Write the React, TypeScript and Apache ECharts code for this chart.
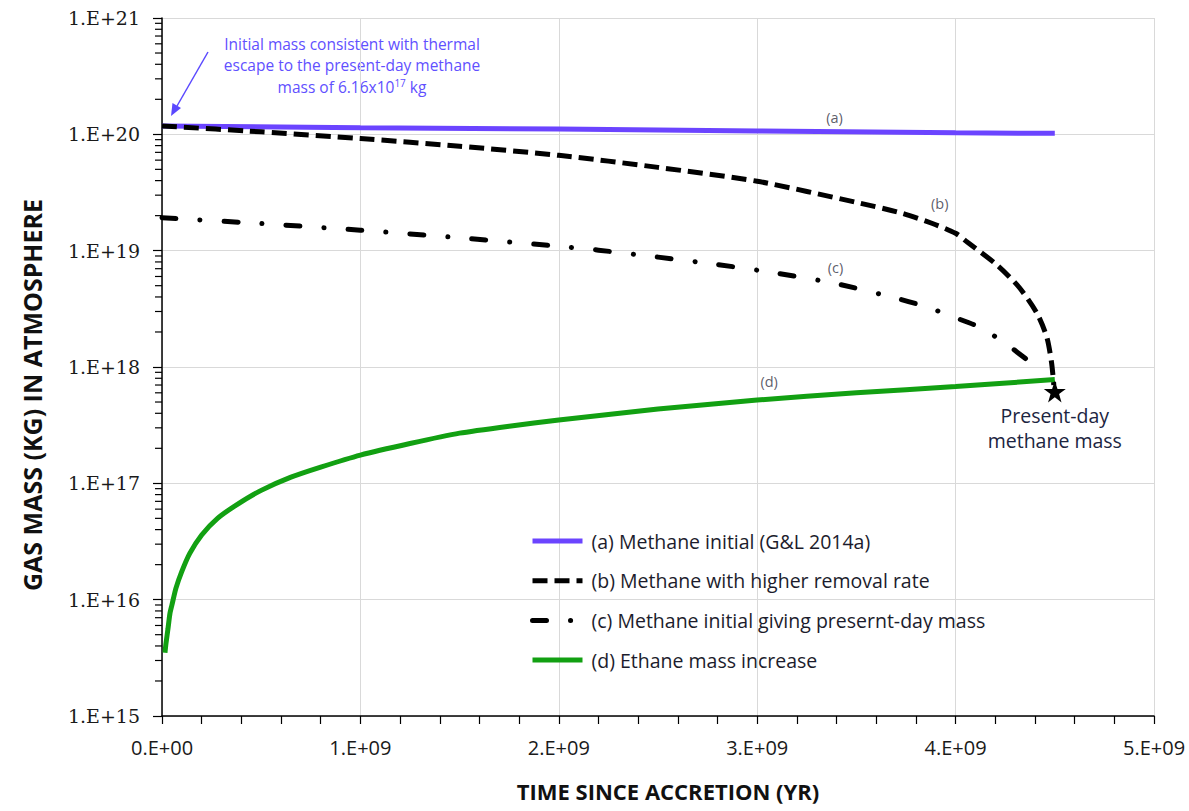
import React, { useEffect, useRef } from "react";
import * as echarts from "echarts";

// Time since accretion (yr) and gas mass (kg) for each curve
const methaneInitialT = [0, 1.0e9, 2.0e9, 3.0e9, 4.0e9, 4.5e9];
const methaneInitialM = [1.18e20, 1.14e20, 1.11e20, 1.07e20, 1.03e20, 1.02e20];

const higherRemovalT = [0, 0.5e9, 1.0e9, 1.5e9, 2.0e9, 2.5e9, 3.0e9, 3.5e9, 3.73e9, 3.88e9, 4.0e9, 4.06e9, 4.21e9, 4.32e9, 4.41e9, 4.46e9, 4.484e9, 4.495e9];
const higherRemovalM = [1.18e20, 1.05e20, 9.2e19, 7.9e19, 6.6e19, 5.2e19, 3.95e19, 2.6e19, 2.1e19, 1.72e19, 1.41e19, 1.18e19, 7.5e18, 4.85e18, 2.9e18, 1.8e18, 1.08e18, 7.0e17];

const presentDayGivingT = [0, 0.5e9, 1.0e9, 1.5e9, 2.0e9, 2.2e9, 2.5e9, 2.8e9, 3.1e9, 3.4e9, 3.7e9, 3.85e9, 4.0e9, 4.12e9, 4.25e9, 4.37e9, 4.39e9];
const presentDayGivingM = [1.92e19, 1.71e19, 1.5e19, 1.29e19, 1.09e19, 1.01e19, 8.8e18, 7.6e18, 6.4e18, 5.2e18, 3.9e18, 3.3e18, 2.65e18, 2.2e18, 1.6e18, 1.12e18, 1.05e18];

const ethaneT = [0.015e9, 0.02e9, 0.03e9, 0.04e9, 0.05e9, 0.07e9, 0.1e9, 0.14e9, 0.2e9, 0.28e9, 0.38e9, 0.5e9, 0.65e9, 0.8e9, 1.0e9, 1.25e9, 1.5e9, 1.75e9, 2.0e9, 2.5e9, 3.0e9, 3.5e9, 4.0e9, 4.5e9];
const ethaneM = [3.5e15, 4.2e15, 5.6e15, 7.6e15, 9.0e15, 1.25e16, 1.75e16, 2.5e16, 3.6e16, 5.0e16, 6.6e16, 8.7e16, 1.13e17, 1.38e17, 1.75e17, 2.2e17, 2.7e17, 3.1e17, 3.5e17, 4.35e17, 5.2e17, 6.0e17, 6.8e17, 7.8e17];

// Present-day methane mass marker
const presentDayT = 4.5e9;
const presentDayM = 6.16e17;

// Curve tags
const tagNames = ["(a)", "(b)", "(c)", "(d)"];
const tagT = [3.39e9, 3.92e9, 3.395e9, 3.06e9];
const tagM = [1.4e20, 2.55e19, 7.2e18, 7.55e17];

const seriesNames = [
  "(a) Methane initial (G&L 2014a)",
  "(b) Methane with higher removal rate",
  "(c) Methane initial giving presernt-day mass",
  "(d) Ethane mass increase",
];

// Log-axis minor tick multipliers and decades
const minorMultipliers = [2, 3, 4, 5, 6, 7, 8, 9];
const decades = [15, 16, 17, 18, 19, 20];

const BLUE = "#6B44FF";
const NOTE_BLUE = "#6150FF";
const GREEN = "#12A012";
const STAR =
  "path://M50,0 L61.8,35.1 L98.1,35.1 L68.7,56.7 L79.4,91.9 L50,70 L20.6,91.9 L31.3,56.7 L1.9,35.1 L38.2,35.1 Z";

const pairs = (xs: number[], ys: number[]) => xs.map((x, i) => [x, ys[i]]);

const sci = (v: number) => {
  if (v === 0) return "0.E+00";
  const e = Math.floor(Math.log10(v) + 1e-9);
  const m = Math.round(v / Math.pow(10, e));
  return `${m}.E+${String(e).padStart(2, "0")}`;
};

const noteLine = (text: string, y: number) => ({
  type: "text",
  x: 352,
  y,
  style: {
    text,
    align: "center",
    verticalAlign: "middle",
    fontFamily: "Open Sans",
    fontSize: 15.5,
    fill: NOTE_BLUE,
  },
});

export default function App() {
  const ref = useRef<HTMLDivElement>(null);

  useEffect(() => {
    if (!ref.current) return;
    const chart = echarts.init(ref.current, undefined, { renderer: "svg" });

    const minorTicks: number[][] = [];
    decades.forEach((d) =>
      minorMultipliers.forEach((m) => minorTicks.push([0, m * Math.pow(10, d)]))
    );

    const option: any = {
      animation: false,
      backgroundColor: "#ffffff",
      grid: { left: 162, right: 35, top: 18, bottom: 95 },
      xAxis: {
        type: "value",
        min: 0,
        max: 5e9,
        interval: 1e9,
        name: "TIME SINCE ACCRETION (YR)",
        nameLocation: "middle",
        nameGap: 64,
        nameTextStyle: {
          fontFamily: "Open Sans",
          fontWeight: "bold",
          fontSize: 22,
          color: "#111",
          padding: [0, 0, 0, 20],
        },
        axisLine: { lineStyle: { color: "#000", width: 1.5 } },
        axisTick: { show: true, inside: false, length: 8, lineStyle: { color: "#000", width: 1.2 } },
        minorTick: { show: true, splitNumber: 5, length: 8, lineStyle: { color: "#000", width: 1.2 } },
        splitLine: { show: true, lineStyle: { color: "#d9d9d9", width: 1 } },
        axisLabel: {
          formatter: sci,
          margin: 21,
          fontFamily: "Open Sans",
          fontSize: 20,
          color: "#1a1a1a",
        },
      },
      yAxis: {
        type: "log",
        logBase: 10,
        min: 1e15,
        max: 1e21,
        interval: 1,
        name: "GAS MASS (KG) IN ATMOSPHERE",
        nameLocation: "middle",
        nameRotate: 90,
        nameGap: 118,
        nameTextStyle: {
          fontFamily: "Open Sans",
          fontWeight: "bold",
          fontSize: 25,
          color: "#111",
          padding: [0, 56, 0, 0],
        },
        axisLine: { show: true, lineStyle: { color: "#000", width: 1.5 } },
        axisTick: { show: true, inside: false, length: 9, lineStyle: { color: "#000", width: 1.2 } },
        splitLine: { show: true, lineStyle: { color: "#d9d9d9", width: 1 } },
        axisLabel: {
          formatter: sci,
          margin: 22,
          fontFamily: "DejaVu Serif",
          fontSize: 19,
          color: "#1a1a1a",
        },
      },
      legend: {
        orient: "vertical",
        left: 530,
        top: 531,
        padding: 0,
        itemWidth: 50,
        itemHeight: 20,
        itemGap: 19.7,
        data: seriesNames,
        selectedMode: false,
        itemStyle: { opacity: 0 },
        lineStyle: { width: "inherit" },
        textStyle: {
          fontFamily: "Open Sans",
          fontSize: 19.5,
          color: "#1c1c2c",
          lineHeight: 20,
          padding: [0, 0, 0, 4],
        },
      },
      series: [
        {
          name: seriesNames[0],
          type: "line",
          data: pairs(methaneInitialT, methaneInitialM),
          showSymbol: false,
          symbol: "none",
          lineStyle: { color: BLUE, width: 5 },
          itemStyle: { color: BLUE },
          z: 3,
        },
        {
          name: seriesNames[1],
          type: "line",
          data: pairs(higherRemovalT, higherRemovalM),
          showSymbol: false,
          symbol: "none",
          smooth: 0.25,
          lineStyle: { color: "#000", width: 5, type: [15, 7], cap: "butt" },
          itemStyle: { color: "#000" },
          z: 4,
        },
        {
          name: seriesNames[2],
          type: "line",
          data: pairs(presentDayGivingT, presentDayGivingM),
          showSymbol: false,
          symbol: "none",
          smooth: 0.25,
          lineStyle: { color: "#000", width: 5, type: [14, 24, 0.1, 24], cap: "round" },
          itemStyle: { color: "#000" },
          z: 4,
        },
        {
          name: seriesNames[3],
          type: "line",
          data: pairs(ethaneT, ethaneM),
          showSymbol: false,
          symbol: "none",
          smooth: 0.2,
          lineStyle: { color: GREEN, width: 5 },
          itemStyle: { color: GREEN },
          z: 5,
        },
        {
          name: "present-day",
          type: "scatter",
          data: [[presentDayT, presentDayM]],
          symbol: STAR,
          symbolSize: 22,
          itemStyle: { color: "#000", opacity: 1 },
          z: 6,
          label: {
            show: true,
            position: "bottom",
            distance: 1,
            formatter: "Present-day\nmethane mass",
            fontFamily: "Open Sans",
            fontSize: 19.5,
            lineHeight: 25,
            color: "#1c2541",
          },
        },
        {
          name: "tags",
          type: "scatter",
          data: tagNames.map((n, i) => [tagT[i], tagM[i], n]),
          symbolSize: 1,
          itemStyle: { color: "rgba(0,0,0,0)" },
          label: {
            show: true,
            position: "inside",
            formatter: (p: any) => p.value[2],
            fontFamily: "Open Sans",
            fontSize: 14.5,
            color: "#333344",
          },
          silent: true,
        },
        {
          name: "minor-ticks",
          type: "custom",
          data: minorTicks,
          silent: true,
          clip: false,
          renderItem: (_params: any, api: any) => {
            const p = api.coord([0, api.value(1)]);
            return {
              type: "line",
              shape: { x1: p[0] - 7, y1: p[1], x2: p[0], y2: p[1] },
              style: { stroke: "#000", lineWidth: 1.2 },
            };
          },
        },
      ],
      graphic: [
        noteLine("Initial mass consistent with thermal", 44),
        noteLine("escape to the present-day methane", 65),
        {
          type: "text",
          x: 352,
          y: 87,
          style: {
            text: "{n|mass of 6.16x10}{s|17}{n| kg}",
            align: "center",
            verticalAlign: "middle",
            rich: {
              n: { fontFamily: "Open Sans", fontSize: 15.5, fill: NOTE_BLUE, color: NOTE_BLUE },
              s: {
                fontFamily: "Open Sans",
                fontSize: 10,
                fill: NOTE_BLUE,
                color: NOTE_BLUE,
                verticalAlign: "top",
                padding: [0, 0, 8, 0],
              },
            },
          },
        },
        {
          type: "line",
          shape: { x1: 208, y1: 52, x2: 177, y2: 106 },
          style: { stroke: "#5a48ff", lineWidth: 1.5 },
        },
        {
          type: "polygon",
          shape: { points: [[171, 116], [172.5, 103], [181, 108]] },
          style: { fill: "#5a48ff" },
        },
      ],
    };

    chart.setOption(option);
    return () => chart.dispose();
  }, []);

  return (
    <div
      ref={ref}
      style={{ position: "fixed", left: 0, top: 0, width: 1189, height: 811, background: "#fff" }}
    />
  );
}
